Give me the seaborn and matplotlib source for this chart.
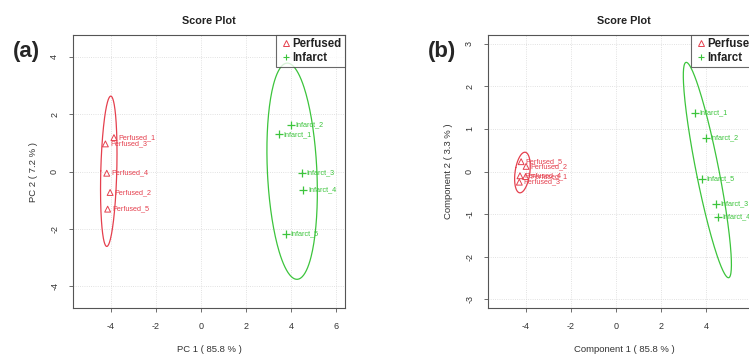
import numpy as np
import pandas as pd
import matplotlib
matplotlib.use("Agg")
import matplotlib.pyplot as plt
import seaborn as sns
from matplotlib.lines import Line2D

sns.set_style("white")
plt.rcParams['font.family'] = ['Liberation Sans', 'DejaVu Sans']
plt.rcParams['axes.unicode_minus'] = False

samples = ["Perfused_1", "Perfused_2", "Perfused_3", "Perfused_4", "Perfused_5",
           "Infarct_1", "Infarct_2", "Infarct_3", "Infarct_4", "Infarct_5"]
groups = ["Perfused"] * 5 + ["Infarct"] * 5

# Panel (a) PCA scores
pca_pc1 = [-3.87, -4.04, -4.25, -4.19, -4.15, 3.48, 3.99, 4.47, 4.55, 3.76]
pca_pc2 = [1.18, -0.73, 0.96, -0.06, -1.31, 1.29, 1.62, -0.04, -0.64, -2.18]

# Panel (b) PLS-DA scores
pls_c1 = [-4.00, -3.98, -4.28, -4.25, -4.20, 3.51, 4.00, 4.45, 4.55, 3.81]
pls_c2 = [-0.12, 0.12, -0.25, -0.10, 0.23, 1.38, 0.79, -0.76, -1.06, -0.18]

palette = {"Perfused": "#E5404E", "Infarct": "#3CC43C"}


def ellipse_pts(x, y, chi=2.4477, n=200):
    x = np.asarray(x); y = np.asarray(y)
    cov = np.cov(x, y)
    vals, vecs = np.linalg.eigh(cov)
    t = np.linspace(0, 2 * np.pi, n)
    circ = np.vstack([np.cos(t), np.sin(t)]) * np.sqrt(vals)[:, None] * chi
    pts = vecs @ circ
    return x.mean() + pts[0], y.mean() + pts[1]


fig = plt.figure(figsize=(7.49, 3.54), dpi=100)
ax_a = fig.add_axes([73 / 749, 46 / 354, 272 / 749, 273 / 354])
ax_b = fig.add_axes([488 / 749, 46 / 354, 272 / 749, 273 / 354])


def draw(ax, xs, ys, xlab, ylab, xlim, ylim, yticks, letter):
    df = pd.DataFrame({"x": xs, "y": ys, "group": groups, "name": samples})
    for g in ["Perfused", "Infarct"]:
        sub = df[df.group == g]
        ex, ey = ellipse_pts(sub.x, sub.y)
        ax.plot(ex, ey, color=palette[g], lw=0.9, zorder=2)
    sub = df[df.group == "Perfused"]
    ax.scatter(sub.x, sub.y, marker="^", facecolors="none", edgecolors=palette["Perfused"],
               s=18, linewidths=0.7, zorder=3)
    sub = df[df.group == "Infarct"]
    sns.scatterplot(data=sub, x="x", y="y", marker="+", color=palette["Infarct"],
                    s=30, linewidth=0.9, ax=ax, legend=False, zorder=3)
    for _, r in df.iterrows():
        ax.text(r.x + 0.2, r.y, r["name"], color=palette[r.group], fontsize=5.2,
                va="center", ha="left", zorder=4)
    ax.set_xlim(*xlim)
    ax.set_ylim(*ylim)
    ax.set_xticks([-4, -2, 0, 2, 4, 6])
    ax.set_yticks(yticks)
    ax.grid(True, color="#d8d8d8", linestyle=":", linewidth=0.6)
    ax.set_axisbelow(True)
    ax.tick_params(axis="both", direction="out", length=3, width=0.6, color="#555555",
                   labelsize=6.5, labelcolor="#333333", left=True, bottom=True, pad=7)
    for lab in ax.get_yticklabels():
        lab.set_rotation(90)
        lab.set_va("center")
    for s in ax.spines.values():
        s.set_color("#555555")
        s.set_linewidth(0.8)
    ax.set_xlabel(xlab, fontsize=6.8, color="#333333", labelpad=10)
    ax.set_ylabel(ylab, fontsize=6.8, color="#333333", labelpad=9)
    ax.set_title("Score Plot", fontsize=7.8, fontweight="bold", color="#222222", pad=8)
    handles = [Line2D([], [], marker="^", ls="none", mfc="none", mec=palette["Perfused"],
                      ms=4, mew=0.7, label="Perfused"),
               Line2D([], [], marker="+", ls="none", color=palette["Infarct"],
                      ms=5, mew=0.8, label="Infarct")]
    leg = ax.legend(handles=handles, loc="upper right", borderaxespad=0, frameon=True,
                    fancybox=False, prop={"weight": "bold", "size": 8.3},
                    handletextpad=0.1, handlelength=1.0, borderpad=0.3, labelspacing=0.12)
    leg.get_frame().set_edgecolor("#444444")
    leg.get_frame().set_linewidth(0.8)
    for t in leg.get_texts():
        t.set_color("#222222")
    x0 = ax.get_position().x0
    fig.text(x0 - 0.08, 0.855, letter, fontsize=16, fontweight="bold", ha="left", va="center")


draw(ax_a, pca_pc1, pca_pc2, "PC 1 ( 85.8 % )", "PC 2 ( 7.2 % )",
     (-5.69, 6.4), (-4.75, 4.75), [-4, -2, 0, 2, 4], "(a)")
draw(ax_b, pls_c1, pls_c2, "Component 1 ( 85.8 % )", "Component 2 ( 3.3 % )",
     (-5.67, 6.4), (-3.2, 3.2), [-3, -2, -1, 0, 1, 2, 3], "(b)")

fig.savefig("out.png", dpi=100)
